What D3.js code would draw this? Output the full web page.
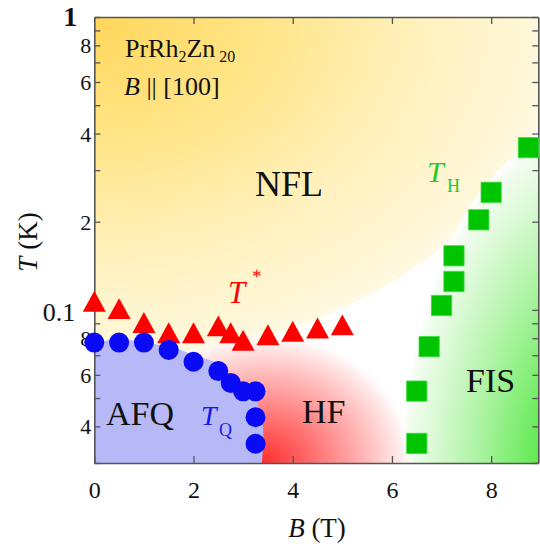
<!DOCTYPE html>
<html><head><meta charset="utf-8">
<script src="https://cdn.jsdelivr.net/npm/d3@7"></script>
<style>
body{margin:0;background:#fff}
svg{display:block;font-family:"Liberation Serif","Times New Roman",serif}
</style>
</head><body>
<svg id="chart" width="540" height="546"></svg>
<script>
// ---- data (B in tesla, T in kelvin) ----
const tstarB = [0, 0.5, 1, 1.5, 2, 2.5, 2.75, 3, 3.5, 4, 4.5, 5];
const tstarT = [0.107, 0.101, 0.0906, 0.0835, 0.0835, 0.0882, 0.0835, 0.0788, 0.0822, 0.0845, 0.0867, 0.0889];
const tqB = [0, 0.5, 1, 1.5, 2, 2.5, 2.75, 3, 3.25, 3.25, 3.25];
const tqT = [0.0773, 0.0773, 0.0773, 0.0730, 0.0665, 0.0618, 0.0563, 0.0527, 0.0527, 0.0430, 0.0349];
const thB = [6.5, 6.5, 6.75, 7.0, 7.25, 7.25, 7.75, 8.0, 8.75];
const thT = [0.0350, 0.0528, 0.0749, 0.1035, 0.125, 0.153, 0.203, 0.252, 0.358];

// phase-region outlines (data units)
const afqB = [0, 0, 1.5, 2.0, 2.5, 2.8, 3.18, 3.32, 3.40, 3.38];
const afqT = [0.03, 0.0752, 0.0749, 0.0702, 0.0651, 0.0577, 0.0533, 0.0460, 0.0400, 0.03];
// elliptical regions: centre (B,T) and edge (B,T)
const nflCentre = [0, 1], nflEdge = [9.43, 0.067];
const fisCentre = [10.2, 0.0262], fisEdge = [6.16, 0.445];
const hfCentre = [3.42, 0.03], hfEdge = [6.5, 0.085];

const xTicks = [0, 2, 4, 6, 8];
const yTicks = [0.03, 0.04, 0.05, 0.06, 0.07, 0.08, 0.09, 0.1, 0.2, 0.3, 0.4, 0.5, 0.6, 0.7, 0.8, 0.9, 1];
const yTickLabels = {1: "1", 0.8: "8", 0.6: "6", 0.4: "4", 0.2: "2", 0.1: "0.1", 0.08: "8", 0.06: "6", 0.04: "4"};

// ---- layout ----
const svg = d3.select("#chart");
const L = 94.3, R = 538.3, T = 17, B = 463;
const x = d3.scaleLinear().domain([0, 8.95]).range([L, R]);
const y = d3.scaleLog().domain([0.03, 1]).range([B, T]);

const defs = svg.append("defs");
defs.append("clipPath").attr("id", "plotclip")
  .append("rect").attr("x", L).attr("y", T).attr("width", R - L).attr("height", B - T);

function radial(id, stops) {
  const g = defs.append("radialGradient").attr("id", id).attr("cx", 0.5).attr("cy", 0.5).attr("r", 0.5);
  stops.forEach(s => g.append("stop").attr("offset", s[0]).attr("stop-color", s[1]).attr("stop-opacity", s[2] == null ? 1 : s[2]));
}
radial("gNFL", [[0, "#FFD65A"], [0.35, "#FFE587"], [0.7, "#FFF1BE"], [0.97, "#FFF8DC"], [1, "#FFFAE6"]]);
radial("gFIS", [[0, "#2FE020"], [0.3, "#5EE94E"], [0.6, "#A8F39E"], [0.85, "#DDFAD8"], [0.97, "#F4FDF2"], [1, "#FFFFFF"]]);
radial("gHF", [[0, "#FF2F2F"], [0.3, "#FF6B6B"], [0.65, "#FFB5B5"], [0.9, "#FFEDED"], [1, "#FFFFFF", 0]]);

const bg = svg.append("g").attr("clip-path", "url(#plotclip)");
bg.append("rect").attr("x", L).attr("y", T).attr("width", R - L).attr("height", B - T).attr("fill", "#fff");

function ellipse(c, e, fill) {
  bg.append("ellipse")
    .attr("cx", x(c[0])).attr("cy", y(c[1]))
    .attr("rx", Math.abs(x(e[0]) - x(c[0]))).attr("ry", Math.abs(y(e[1]) - y(c[1])))
    .attr("fill", fill);
}
ellipse(nflCentre, nflEdge, "url(#gNFL)");
ellipse(fisCentre, fisEdge, "url(#gFIS)");
ellipse(hfCentre, hfEdge, "url(#gHF)");

bg.append("path")
  .datum(afqB.map((b, i) => [b, afqT[i]]))
  .attr("d", d3.line().x(d => x(d[0])).y(d => y(d[1])).curve(d3.curveCatmullRom))
  .attr("fill", "#B7B8F8");

// ---- axes ----
const axStroke = "#555";
function styleAxis(g) {
  g.select(".domain").attr("stroke", axStroke).attr("stroke-width", 1.6);
  g.selectAll(".tick line").attr("stroke", axStroke).attr("stroke-width", 1.3);
}
svg.append("g").attr("transform", `translate(0,${B})`)
  .call(d3.axisBottom(x).tickValues(xTicks).tickSizeInner(-7).tickSizeOuter(0).tickPadding(18).tickFormat(d3.format("d")))
  .call(styleAxis)
  .call(g => g.selectAll("text").attr("font-size", 24).attr("fill", "#111").attr("font-family", "Liberation Serif"));
svg.append("g").attr("transform", `translate(0,${T})`)
  .call(d3.axisTop(x).tickValues(xTicks.slice(1)).tickSizeInner(-7).tickSizeOuter(0).tickFormat(""))
  .call(styleAxis);
svg.append("g").attr("transform", `translate(${L},0)`)
  .call(d3.axisLeft(y).tickValues(yTicks).tickSizeInner(-6).tickSizeOuter(0).tickPadding(3)
    .tickFormat(d => yTickLabels[d] || ""))
  .call(styleAxis)
  .call(g => g.selectAll("text").attr("font-size", 22).attr("fill", "#111").attr("font-family", "Liberation Serif")
    .attr("dy", "0.34em")
    .each(function(d) {
      const t = d3.select(this);
      if (d === 0.1) t.attr("x", -19).attr("font-size", 26).attr("dy", "0.4em");
      if (d === 1) t.attr("x", -17).attr("font-weight", "bold").attr("font-size", 28).attr("dy", "0.3em");
    }));
svg.append("g").attr("transform", `translate(${R},0)`)
  .call(d3.axisRight(y).tickValues(yTicks).tickSizeInner(-6).tickSizeOuter(0).tickFormat(""))
  .call(styleAxis);

// ---- markers ----
const triangle = {
  draw(ctx, size) {
    const w = Math.sqrt(size * 2.2), h = w * 0.91;
    ctx.moveTo(0, -h / 2); ctx.lineTo(w / 2, h / 2); ctx.lineTo(-w / 2, h / 2); ctx.closePath();
  }
};
const marks = svg.append("g");
marks.selectAll("path.tstar").data(tstarB.map((b, i) => [b, tstarT[i]])).join("path")
  .attr("class", "tstar")
  .attr("transform", d => `translate(${x(d[0])},${y(d[1])})`)
  .attr("d", d3.symbol().type(triangle).size(240))
  .attr("fill", "#FF0000");
marks.selectAll("circle.tq").data(tqB.map((b, i) => [b, tqT[i]])).join("circle")
  .attr("class", "tq")
  .attr("cx", d => x(d[0])).attr("cy", d => y(d[1])).attr("r", 10)
  .attr("fill", "#0A0AF5");
marks.selectAll("path.th").data(thB.map((b, i) => [b, thT[i]])).join("path")
  .attr("class", "th")
  .attr("transform", d => `translate(${x(d[0])},${y(d[1])})`)
  .attr("d", d3.symbol().type(d3.symbolSquare).size(410))
  .attr("fill", "#00C400").attr("stroke", "#3ADB3A").attr("stroke-width", 0.8);

// ---- text ----
const txt = svg.append("g").attr("fill", "#111");
function label(xp, yp, size, content, opts = {}) {
  const t = txt.append("text").attr("x", xp).attr("y", yp).attr("font-size", size);
  if (opts.italic) t.attr("font-style", "italic");
  if (opts.fill) t.attr("fill", opts.fill);
  t.text(content);
  return t;
}
const comp = txt.append("text").attr("x", 125).attr("y", 57).attr("font-size", 26);
comp.append("tspan").text("PrRh");
comp.append("tspan").attr("font-size", 16).attr("dy", 5).text("2");
comp.append("tspan").attr("dy", -5).text("Zn");
comp.append("tspan").attr("font-size", 16).attr("dy", 5).attr("dx", 4).text("20");
const fld = txt.append("text").attr("x", 124).attr("y", 95).attr("font-size", 26);
fld.append("tspan").attr("font-style", "italic").text("B");
fld.append("tspan").text(" || [100]");

label(255, 196, 36, "NFL");
label(106, 425, 34, "AFQ");
label(302, 423, 34, "HF");
label(466, 392, 34, "FIS");

label(228, 303, 31, "T", {italic: true, fill: "#FF0000"});
label(252, 283, 19, "*", {fill: "#FF0000"});
label(427, 182, 30, "T", {italic: true, fill: "#22CC22"});
label(447, 192, 18, "H", {fill: "#22CC22"});
label(201, 425, 28, "T", {italic: true, fill: "#1A1AE6"});
label(219, 436, 18, "Q", {fill: "#1A1AE6"});

const xt = txt.append("text").attr("x", 317).attr("y", 537).attr("font-size", 27).attr("text-anchor", "middle");
xt.append("tspan").attr("font-style", "italic").text("B");
xt.append("tspan").text(" (T)");
const yt = txt.append("text").attr("transform", "translate(37,242) rotate(-90)").attr("font-size", 27).attr("text-anchor", "middle");
yt.append("tspan").attr("font-style", "italic").text("T");
yt.append("tspan").text(" (K)");
</script>
</body></html>
